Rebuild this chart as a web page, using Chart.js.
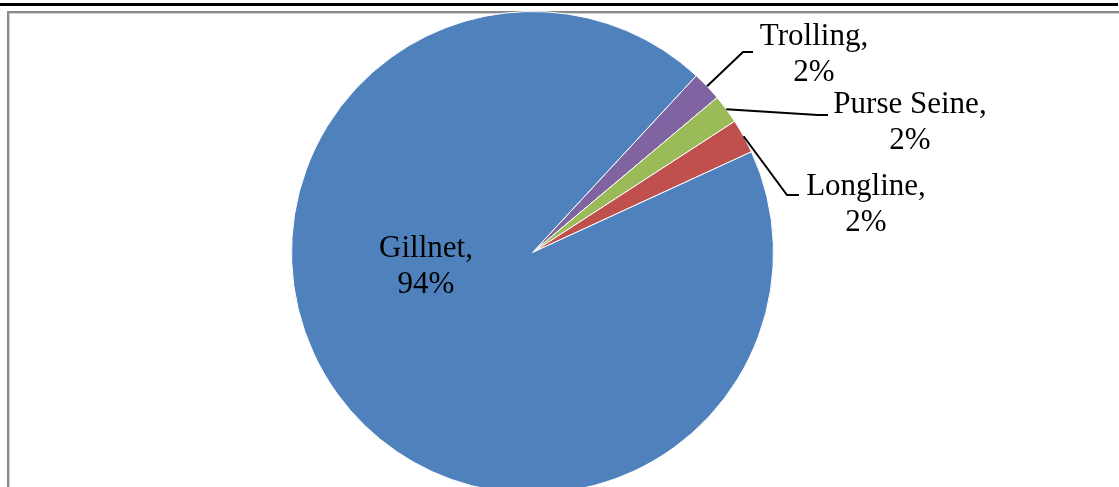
<!DOCTYPE html>
<html>
<head>
<meta charset="utf-8">
<script src="https://cdn.jsdelivr.net/npm/chart.js@4"></script>
<style>
  html, body { margin: 0; padding: 0; background: #fff; }
  #wrap { position: relative; width: 1119px; height: 487px; overflow: hidden; background: #fff; }
  #topbar { position: absolute; left: 0; top: 3px; width: 1118px; height: 3px; background: #000; }
  #frame { position: absolute; left: 7px; top: 11px; width: 1120px; height: 500px;
           border-left: 2px solid #8a8a8a; border-top: 2px solid #8a8a8a; }
  #frame2 { position: absolute; left: 9px; top: 13px; width: 1120px; height: 500px;
           border-left: 1px solid #d4d4d4; border-top: 1px solid #d4d4d4; }
  #cv { position: absolute; left: 0; top: 0; }
</style>
</head>
<body>
<div id="wrap">
  <div id="topbar"></div>
  <div id="frame"></div>
  <div id="frame2"></div>
  <canvas id="cv" width="1119" height="510"></canvas>
</div>
<script>
// ---- data ----
const categories = ['Trolling', 'Purse Seine', 'Longline', 'Gillnet'];
const shares = [2.0, 1.95, 2.3, 93.75];
const sliceColors = ['#8064A2', '#9BBB59', '#C0504D', '#4F81BD'];

// ---- label layout (text centre x, first baseline y) ----
const labelAnchors = [[814, 45], [910, 113], [866, 195], [426, 257]];
// leader line elbow and end points for the outside labels
const leaderElbows = [[743, 52], [818, 115], [787, 195], null];
const leaderEnds = [[753, 52], [828, 115], [799, 195], null];

const labelPlugin = {
  id: 'pieLabels',
  afterDatasetsDraw(chart) {
    const ctx = chart.ctx;
    const meta = chart.getDatasetMeta(0);
    ctx.save();
    // leader lines
    ctx.strokeStyle = '#000';
    ctx.lineWidth = 2;
    meta.data.forEach((arc, i) => {
      if (!leaderElbows[i]) return;
      const p = arc.getProps(['x', 'y', 'startAngle', 'endAngle', 'outerRadius'], true);
      const mid = (p.startAngle + p.endAngle) / 2;
      const sx = p.x + Math.cos(mid) * p.outerRadius;
      const sy = p.y + Math.sin(mid) * p.outerRadius;
      ctx.beginPath();
      ctx.moveTo(sx, sy);
      ctx.lineTo(leaderElbows[i][0], leaderElbows[i][1]);
      ctx.lineTo(leaderEnds[i][0], leaderEnds[i][1]);
      ctx.stroke();
    });
    // text
    ctx.fillStyle = '#000';
    ctx.font = '31px "Liberation Serif", "Times New Roman", serif';
    ctx.textAlign = 'center';
    ctx.textBaseline = 'alphabetic';
    categories.forEach((c, i) => {
      const [x, y] = labelAnchors[i];
      ctx.fillText(c + ',', x, y);
      ctx.fillText(Math.round(shares[i]) + '%', x, y + 36);
    });
    ctx.restore();
  }
};

new Chart(document.getElementById('cv'), {
  type: 'pie',
  data: {
    labels: categories,
    datasets: [{
      data: shares,
      backgroundColor: sliceColors,
      borderColor: '#ffffff',
      borderWidth: 1
    }]
  },
  options: {
    responsive: false,
    animation: false,
    events: [],
    rotation: 42.8,
    radius: 241,
    layout: { padding: { left: 291, right: 345, top: 12, bottom: 17 } },
    plugins: {
      legend: { display: false },
      tooltip: { enabled: false },
      title: { display: false }
    }
  },
  plugins: [labelPlugin]
});
</script>
</body>
</html>
